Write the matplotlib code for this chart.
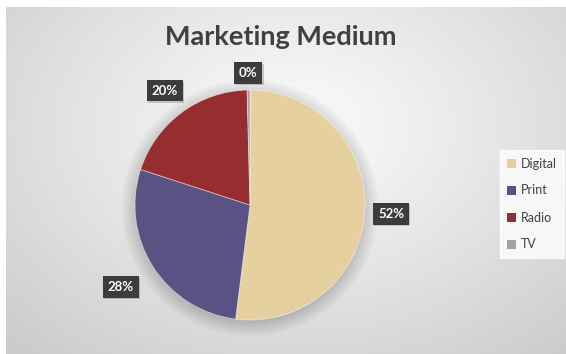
import numpy as np
import matplotlib
matplotlib.use("Agg")
import matplotlib.pyplot as plt
from matplotlib.patches import Circle, Patch

# marketing spend share by medium
mediums = ["Digital", "Print", "Radio", "TV"]
shares = [52, 28, 19.6, 0.4]
colors = ["#e6d0a0", "#5a5282", "#962d30", "#9fa2ac"]

plt.rcParams['font.family'] = ['Lato', 'DejaVu Sans']

W, H = 566, 354
fig = plt.figure(figsize=(W / 100, H / 100), dpi=100)
fig.patch.set_facecolor("white")

# chart area with a soft radial gradient
bg = fig.add_axes([6 / W, 0, (W - 6) / W, (H - 7) / H])
yy, xx = np.mgrid[0:347, 0:560]
d = np.sqrt(((xx - 290) / 420.0) ** 2 + ((yy - 120) / 300.0) ** 2)
shade = 251 - 48 * np.clip(d, 0, 1) ** 1.1
img = np.dstack([shade, shade, shade]) / 255.0
bg.imshow(img, aspect="auto", interpolation="bilinear")
bg.set_axis_off()

# pie axes: centre at (250, 205) px, radius 115 px
R = 115
half = 140
ax = fig.add_axes([(250 - half) / W, (H - 205 - half) / H, 2 * half / W, 2 * half / H])
lim = half / R
ax.set_axis_off()
ax.patch.set_alpha(0)

# soft shadow behind the pie
for i in range(14):
    ax.add_patch(Circle((0.0, -0.025), 0.99 + i * 0.01, color="black",
                        alpha=0.012, lw=0, zorder=0))

wedges, _ = ax.pie(shares, colors=colors, startangle=90, counterclock=False,
                   radius=1.0, center=(0, 0), frame=False,
                   wedgeprops=dict(linewidth=0.6, edgecolor=(1, 1, 1, 0.5)))
ax.set_xlim(-lim, lim)
ax.set_ylim(-lim, lim)

# data labels in dark boxes, pushed out from each slice
label_r = [1.23, 1.33, 1.24, 1.15]
total = sum(shares)
for w, v, r in zip(wedges, shares, label_r):
    mid = np.deg2rad((w.theta1 + w.theta2) / 2)
    txt = f"{round(100 * v / total)}%"
    x, y = r * np.cos(mid), r * np.sin(mid)
    ax.text(x + 0.012, y - 0.015, txt, ha="center", va="center",
            fontsize=9.5, fontweight="bold", color="black", alpha=0.0, zorder=4,
            bbox=dict(boxstyle="square,pad=0.36", fc="black", ec="none", alpha=0.18))
    ax.text(x, y, txt, ha="center", va="center",
            fontsize=9.5, fontweight="bold", color="white", zorder=5,
            bbox=dict(boxstyle="square,pad=0.36", fc="#3c3c3c", ec="none"))

fig.text(281 / W, 1 - 37 / H, "Marketing Medium", ha="center", va="center",
         fontsize=19.5, fontweight="bold", color="#404040")

handles = [Patch(facecolor=c, edgecolor="none") for c in colors]
leg = fig.legend(handles, mediums, loc="upper left",
                 bbox_to_anchor=(500 / W, 1 - 150 / H), borderaxespad=0,
                 frameon=True, fancybox=False, fontsize=9,
                 handlelength=0.7, handleheight=0.7, handletextpad=0.35,
                 labelspacing=1.2, borderpad=0.6, labelcolor="#404040")
leg.get_frame().set_facecolor((1, 1, 1, 0.45))
leg.get_frame().set_edgecolor((1, 1, 1, 0.6))

fig.savefig("out.png", dpi=100)
